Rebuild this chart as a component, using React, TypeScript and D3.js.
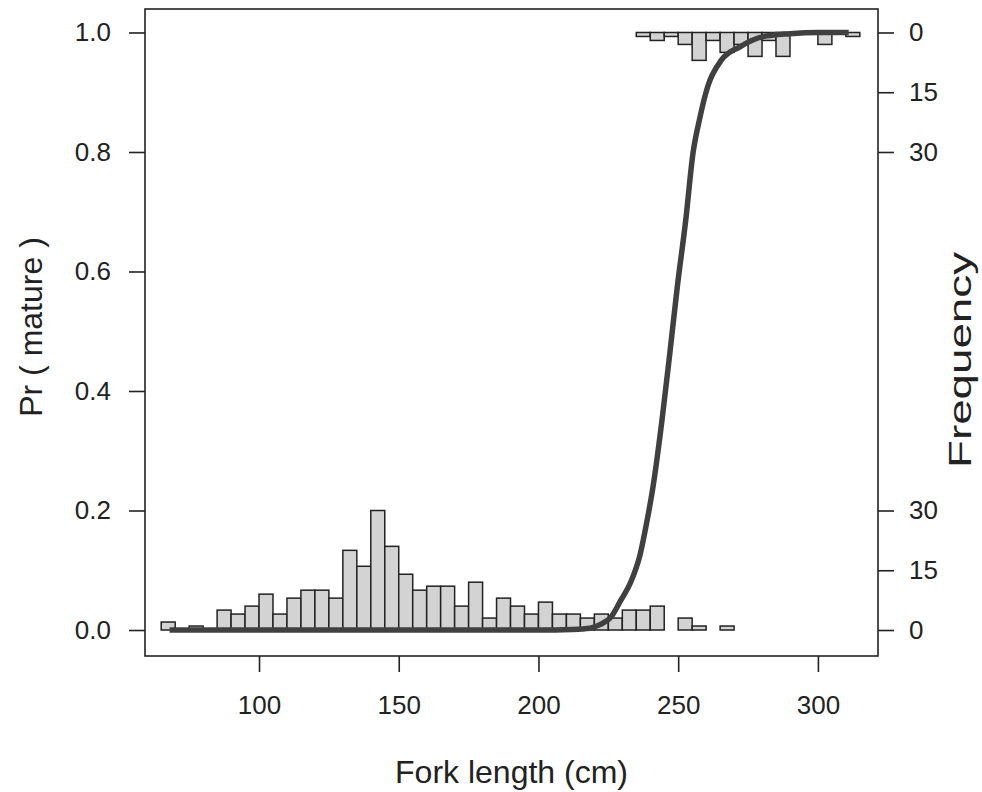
import React, { useEffect, useRef } from "react";
import * as d3 from "d3";

// immature fish (bottom histogram), 5 cm bins, start of each bin
const immatureBins = [65, 70, 75, 80, 85, 90, 95, 100, 105, 110, 115, 120, 125, 130, 135, 140, 145, 150, 155, 160, 165, 170, 175, 180, 185, 190, 195, 200, 205, 210, 215, 220, 225, 230, 235, 240, 245, 250, 255, 260, 265];
const immatureCounts = [2, 0, 1, 0, 5, 4, 6, 9, 4, 8, 10, 10, 8, 20, 16, 30, 21, 14, 10, 11, 11, 6, 12, 3, 8, 6, 4, 7, 4, 4, 3, 4, 3, 5, 5, 6, 0, 3, 1, 0, 1];

// mature fish (top histogram, hanging down from 1.0)
const matureBins = [235, 240, 245, 250, 255, 260, 265, 270, 275, 280, 285, 290, 295, 300, 305, 310];
const matureCounts = [1, 2, 1, 3, 7, 2, 5, 3, 6, 2, 6, 0, 0, 3, 0, 1];

const binWidth = 5;

// fitted maturity curve
const curveLength = [68, 150, 200, 212, 218.4, 222, 226, 229.5, 233, 236.3, 238.9, 241.0, 244.2, 247.0, 249.7, 252.7, 255.3, 257.6, 260.6, 265.5, 272.1, 280.3, 290.0, 300, 311];
const curveProb = [0, 0, 0, 0.001, 0.003, 0.009, 0.022, 0.05, 0.08, 0.125, 0.184, 0.24, 0.351, 0.463, 0.575, 0.686, 0.798, 0.854, 0.91, 0.954, 0.976, 0.993, 0.998, 1, 1];

const probTicks = [0, 0.2, 0.4, 0.6, 0.8, 1.0];
const lengthTicks = [100, 150, 200, 250, 300];
const freqTicks = [0, 15, 30];
const countsPerUnit = 150; // 30 fish = 0.2 on the probability axis

const font = "'Liberation Sans', Arial, sans-serif";

export default function App() {
  const ref = useRef<SVGSVGElement>(null);

  useEffect(() => {
    const svg = d3.select(ref.current);
    svg.selectAll("*").remove();

    const left = 145, right = 878, top = 9, bottom = 656;
    const x = d3.scaleLinear().domain([59.2, 321.5]).range([left, right]);
    const y = d3.scaleLinear().domain([-0.0435, 1.0393]).range([bottom, top]);

    const styleAxis = (g: any) => {
      g.select(".domain").remove();
      g.selectAll(".tick line").attr("stroke", "#222").attr("stroke-width", 1.6);
      g.selectAll(".tick text")
        .attr("fill", "#222")
        .style("font-family", font)
        .style("font-size", "26px");
    };

    // bottom histogram
    const lowData = immatureBins.map((b, i) => ({ b, c: immatureCounts[i] })).filter(d => d.c > 0);
    svg.append("g")
      .selectAll("rect")
      .data(lowData)
      .join("rect")
      .attr("x", d => x(d.b))
      .attr("width", d => x(d.b + binWidth) - x(d.b))
      .attr("y", d => y(d.c / countsPerUnit))
      .attr("height", d => y(0) - y(d.c / countsPerUnit))
      .attr("fill", "#d3d3d3")
      .attr("stroke", "#222")
      .attr("stroke-width", 1.5);

    // top histogram
    const highData = matureBins.map((b, i) => ({ b, c: matureCounts[i] })).filter(d => d.c > 0);
    svg.append("g")
      .selectAll("rect")
      .data(highData)
      .join("rect")
      .attr("x", d => x(d.b))
      .attr("width", d => x(d.b + binWidth) - x(d.b))
      .attr("y", y(1))
      .attr("height", d => y(1 - d.c / countsPerUnit) - y(1))
      .attr("fill", "#d3d3d3")
      .attr("stroke", "#222")
      .attr("stroke-width", 1.5);

    // curve
    const pts = curveLength.map((l, i) => [l, curveProb[i]] as [number, number]);
    const line = d3.line<[number, number]>()
      .x(d => x(d[0]))
      .y(d => y(d[1]))
      .curve(d3.curveMonotoneX);
    svg.append("path")
      .attr("d", line(pts) || "")
      .attr("fill", "none")
      .attr("stroke", "#404040")
      .attr("stroke-width", 5.5);

    // box
    svg.append("rect")
      .attr("x", left).attr("y", top)
      .attr("width", right - left).attr("height", bottom - top)
      .attr("fill", "none").attr("stroke", "#222").attr("stroke-width", 1.6);

    // axes
    svg.append("g")
      .attr("transform", `translate(${left},0)`)
      .call(d3.axisLeft(y).tickValues(probTicks).tickFormat(d3.format(".1f")).tickSize(16).tickPadding(18))
      .call(styleAxis);

    svg.append("g")
      .attr("transform", `translate(0,${bottom})`)
      .call(d3.axisBottom(x).tickValues(lengthTicks).tickFormat(d3.format("d")).tickSize(16).tickPadding(24))
      .call(styleAxis);

    const rightVals = [...freqTicks.map(f => 1 - f / countsPerUnit), ...freqTicks.map(f => f / countsPerUnit)];
    const rightLabels = [...freqTicks, ...freqTicks].map(String);
    svg.append("g")
      .attr("transform", `translate(${right},0)`)
      .call(d3.axisRight(y).tickValues(rightVals).tickFormat((_d, i) => rightLabels[i]).tickSize(16).tickPadding(15))
      .call(styleAxis);

    // titles
    svg.append("text")
      .attr("x", (left + right) / 2).attr("y", 783)
      .attr("text-anchor", "middle")
      .attr("fill", "#222")
      .style("font-family", font).style("font-size", "32px")
      .text("Fork length (cm)");

    svg.append("text")
      .attr("transform", "translate(42,327) rotate(-90)")
      .attr("text-anchor", "middle")
      .attr("fill", "#222")
      .style("font-family", font).style("font-size", "32px")
      .text("Pr ( mature )");

    svg.append("text")
      .attr("transform", "translate(971,360) rotate(-90)")
      .attr("text-anchor", "middle")
      .attr("fill", "#222")
      .attr("textLength", 216)
      .attr("lengthAdjust", "spacingAndGlyphs")
      .style("font-family", font).style("font-size", "32px")
      .text("Frequency");
  }, []);

  return (
    <div style={{ position: "absolute", left: 0, top: 0 }}>
      <svg ref={ref} width={982} height={792} style={{ display: "block", background: "#fff" }} />
    </div>
  );
}
